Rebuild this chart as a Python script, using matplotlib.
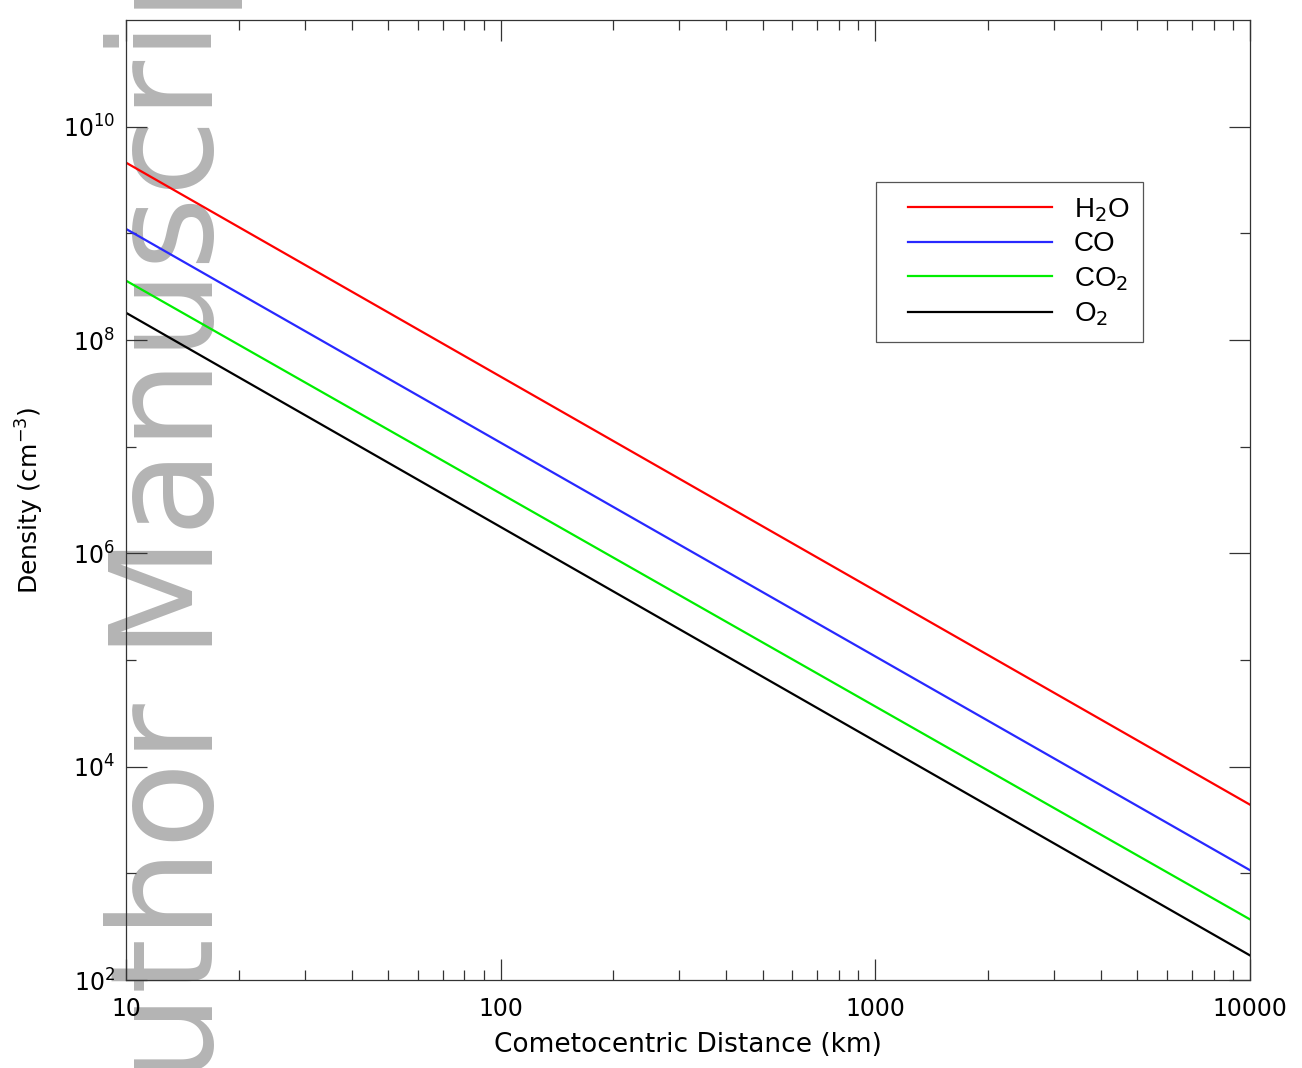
import numpy as np
import matplotlib
matplotlib.use("Agg")
import matplotlib.pyplot as plt
from matplotlib.lines import Line2D
from matplotlib.legend_handler import HandlerLine2D

# Density vs cometocentric distance (1/r^2 profiles)
distance = [10, 10000]                 # km
h2o = [4.6e9, 4.4e3]                   # cm^-3
co = [1.1e9, 1.07e3]
co2 = [3.6e8, 3.7e2]
o2 = [1.8e8, 1.7e2]

names = [r'H$_2$O', 'CO', r'CO$_2$', r'O$_2$']
colors = ['#ff0000', '#2828ff', '#00ee00', '#000000']

xticks = [10, 100, 1000, 10000]
xlabels = ['10', '100', '1000', '10000']
yticks = [1e2, 1e4, 1e6, 1e8, 1e10]
ylabels = [r'$10^{2}$', r'$10^{4}$', r'$10^{6}$', r'$10^{8}$', r'$10^{10}$']

plt.rcParams['font.family'] = ['DejaVu Sans']
plt.rcParams['mathtext.fontset'] = 'dejavusans'

fig = plt.figure(figsize=(13.02, 10.68), dpi=100)
ax = fig.add_axes([126/1302, 1 - 980/1068, 1124/1302, 960/1068])
ax.patch.set_alpha(0)
ax.set_zorder(2)

# gray watermark behind the plot
fig.text(213/1302, -0.105, 'Author Manuscript', rotation=90, rotation_mode='anchor',
         ha='left', va='baseline', fontsize=102, color='#b4b4b4',
         family='DejaVu Sans', zorder=0)

for vals, nm, c in zip([h2o, co, co2, o2], names, colors):
    ax.plot(distance, vals, color=c, lw=1.6, label=nm)

ax.set_xscale('log')
ax.set_yscale('log')
ax.set_xlim(10, 10000)
ax.set_ylim(1e2, 1e11)

ax.set_xticks(xticks)
ax.set_xticklabels(xlabels)
ax.set_yticks(yticks)
ax.set_yticklabels(ylabels)
ax.yaxis.set_minor_locator(matplotlib.ticker.FixedLocator([1e3, 1e5, 1e7, 1e9]))
ax.yaxis.set_minor_formatter(matplotlib.ticker.NullFormatter())

ax.tick_params(which='both', direction='in', top=True, right=True, color='#333333', width=0.9)
ax.tick_params(which='major', length=15, labelsize=17)
ax.tick_params(which='minor', length=7.5)
ax.tick_params(axis='x', which='major', pad=12)
ax.tick_params(axis='y', which='major', pad=8)
for s in ax.spines.values():
    s.set_color('#333333')
    s.set_linewidth(0.9)

ax.set_xlabel('Cometocentric Distance (km)', fontsize=19, labelpad=8)
ax.set_ylabel(r'Density (cm$^{-3}$)', fontsize=18, labelpad=12)

leg = ax.legend(loc='upper left', bbox_to_anchor=(0.667, 0.831), borderaxespad=0,
                prop={'family': 'Liberation Sans', 'size': 20}, handlelength=5.83,
                handletextpad=0.8, borderpad=0.5, labelspacing=0.27,
                fancybox=False, framealpha=1,
                handler_map={Line2D: HandlerLine2D(xpad=0.65)})
leg.get_frame().set_edgecolor('#555555')
leg.get_frame().set_linewidth(0.9)

fig.savefig('out.png', dpi=100)
